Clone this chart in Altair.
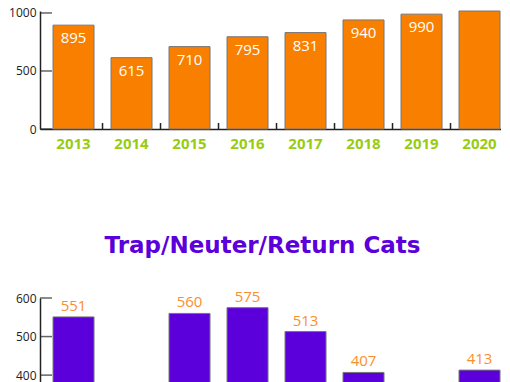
import altair as alt
import pandas as pd

years = ["2013", "2014", "2015", "2016", "2017", "2018", "2019", "2020"]
top_values = [895, 615, 710, 795, 831, 940, 990, 1180]
tnr_values = [551, 320, 560, 575, 513, 407, 300, 413]
top_ticks = [0, 500, 1000]
tnr_ticks = [400, 500, 600]
tnr_title = "Trap/Neuter/Return Cats"

ORANGE = "#F97F00"
PURPLE = "#5B00DB"
GREEN = "#99CC11"
LABEL_ORANGE = "#F99030"
FONT = "Open Sans"

W = 461
H1 = 118
TOP_MAX = 1017
BOT_MIN, BOT_MAX = 377, 600
H2 = 86
P_INNER = 0.293
P_OUTER = 0.1207
ALIGN = 0.93
GAP_HALF = 8.5

top_df = pd.DataFrame({"year": years, "value": top_values})
tnr_df = pd.DataFrame({"year": years, "value": tnr_values})
top_tick_df = pd.DataFrame({"t": top_ticks})
tnr_tick_df = pd.DataFrame({"t": tnr_ticks})
bound_df = pd.DataFrame({"year": years[1:]})

xscale = alt.Scale(paddingInner=P_INNER, paddingOuter=P_OUTER, align=ALIGN)
yaxis_common = dict(ticks=False, grid=False, domainColor="#222", domainWidth=1.5,
                    labelColor="#222", labelFont=FONT, labelFontSize=12,
                    labelPadding=4, format="d")

# ---------- top chart ----------
ys1 = alt.Scale(domain=[0, TOP_MAX], nice=False, clamp=True)
bars1 = alt.Chart(top_df).mark_bar(color=ORANGE, stroke="#777", strokeWidth=1).encode(
    x=alt.X("year:N", scale=xscale, sort=years, title=None,
            axis=alt.Axis(ticks=False, domainColor="#222", domainWidth=1.5,
                          labelColor=GREEN, labelFont=FONT, labelFontSize=15,
                          labelFontWeight="bold", labelAngle=0, labelPadding=7)),
    y=alt.Y("value:Q", scale=ys1, title=None, axis=alt.Axis(values=top_ticks, **yaxis_common)),
)
text1 = alt.Chart(top_df).transform_filter(f"datum.value <= {TOP_MAX}").mark_text(
    color="white", font=FONT, fontSize=15, baseline="top", dy=6).encode(
    x=alt.X("year:N", sort=years), y=alt.Y("value:Q", scale=ys1), text="value:Q")
yt1 = alt.Chart(top_tick_df).mark_tick(color="#222", size=12, thickness=1.5, orient="horizontal").encode(
    y=alt.Y("t:Q", scale=ys1), x=alt.value(6))
xb1 = alt.Chart(bound_df).mark_rule(color="#222", strokeWidth=1.5, xOffset=-GAP_HALF).encode(
    x=alt.X("year:N", sort=years, bandPosition=0), y=alt.datum(0), y2=alt.value(H1 - 6))
top = alt.layer(bars1, text1, yt1, xb1).properties(width=W, height=H1)

# ---------- bottom chart ----------
ys2 = alt.Scale(domain=[BOT_MIN, BOT_MAX], nice=False, zero=False, clamp=True)
bars2 = alt.Chart(tnr_df).mark_bar(color=PURPLE, stroke="#777", strokeWidth=1).encode(
    x=alt.X("year:N", scale=xscale, sort=years, title=None, axis=None),
    y=alt.Y("value:Q", scale=ys2, title=None, axis=alt.Axis(values=tnr_ticks, **yaxis_common)),
)
text2 = alt.Chart(tnr_df).transform_filter(f"datum.value >= {BOT_MIN}").mark_text(
    color=LABEL_ORANGE, font=FONT, fontSize=15, baseline="bottom", dy=-3).encode(
    x=alt.X("year:N", sort=years), y=alt.Y("value:Q", scale=ys2), text="value:Q")
yt2 = alt.Chart(tnr_tick_df).mark_tick(color="#222", size=12, thickness=1.5, orient="horizontal").encode(
    y=alt.Y("t:Q", scale=ys2), x=alt.value(6))
bottom = alt.layer(bars2, text2, yt2).properties(
    width=W, height=H2,
    title=alt.TitleParams(tnr_title, color=PURPLE, font="DejaVu Sans", fontSize=23,
                          fontWeight="bold", anchor="middle", offset=32, dx=-8),
)

chart = (alt.vconcat(top, bottom, spacing=83)
         .properties(padding={"top": -2, "left": 0, "right": 0, "bottom": 0})
         .configure_view(stroke=None))

chart.save("out.html", embed_options={"renderer": "svg", "actions": False})
